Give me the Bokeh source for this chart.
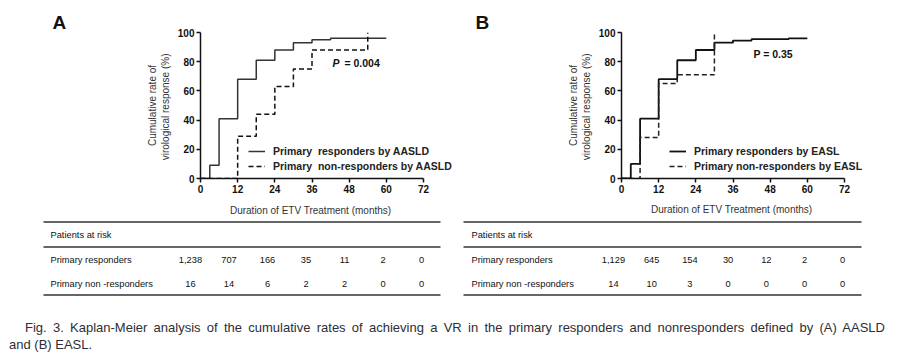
from bokeh.plotting import figure
from bokeh.models import Range1d, Legend, LegendItem, Label, FixedTicker, Div
from bokeh.layouts import column, row
from bokeh.embed import file_html
from bokeh.resources import INLINE
from bokeh.core.properties import value

# ---------------- data ----------------
months_ticks = [0, 12, 24, 36, 48, 60, 72]
pct_ticks = [0, 20, 40, 60, 80, 100]

# Panel A (AASLD)
a_resp_t = [0, 3, 6, 12, 18, 24, 30, 36, 42, 60]
a_resp_v = [0, 9, 41, 68, 81, 88, 93, 95, 96, 96]
a_non_t = [0, 12, 18, 24, 30, 36, 54]
a_non_v = [0, 29, 44, 63, 75, 88, 100]

# Panel B (EASL)
b_resp_t = [0, 3, 6, 12, 18, 24, 30, 36, 42, 54, 60]
b_resp_v = [0, 10, 41, 68, 81, 88, 93, 94.5, 95.5, 96, 96]
b_non_t = [0, 6, 12, 18, 30]
b_non_v = [0, 28, 65, 71, 100]

a_labels = ["Primary  responders by AASLD", "Primary  non-responders by AASLD"]
b_labels = ["Primary responders by EASL", "Primary non-responders by EASL"]
a_p = ("P", "= 0.004")
b_p = "P = 0.35"
x_title = "Duration of  ETV Treatment (months)"
y_title = "Cumulative rate of\nvirological response  (%)"

risk_rows = ["Primary responders", "Primary non -responders"]
a_risk_resp = ["1,238", "707", "166", "35", "11", "2", "0"]
a_risk_non = ["16", "14", "6", "2", "2", "0", "0"]
b_risk_resp = ["1,129", "645", "154", "30", "12", "2", "0"]
b_risk_non = ["14", "10", "3", "0", "0", "0", "0"]

caption1 = ("Fig. 3. Kaplan-Meier analysis of the cumulative rates of achieving a VR in the "
            "primary responders and nonresponders defined by (A) AASLD")
caption2 = "and (B) EASL."

FONT = "Liberation Sans"
TOP_H = 203
AX_PX = 223          # pixel length of the 0..72 month axis


def km_panel(letter, letter_x, resp_t, resp_v, non_t, non_v, labels, width, left, top,
             frame_h, frame_w, resp_color, resp_w, non_color):
    x_end = 72 * frame_w / AX_PX
    p = figure(width=width, height=TOP_H, output_backend="svg", toolbar_location=None,
               x_range=Range1d(0, x_end), y_range=Range1d(0, 100),
               min_border_left=left, min_border_right=width - left - frame_w,
               min_border_top=top, min_border_bottom=TOP_H - top - frame_h)
    p.outline_line_color = None
    p.grid.visible = False
    p.background_fill_color = "white"
    p.border_fill_color = "white"
    # panel letter as a left-aligned title, pulled out to the left
    p.title.text = letter
    p.title.align = "left"
    p.title.offset = letter_x - left
    p.title.standoff = 0
    p.title.text_font = FONT
    p.title.text_font_size = "19px"
    p.title.text_font_style = "bold"
    p.title.text_color = "#111"
    for ax in (p.xaxis[0], p.yaxis[0]):
        ax.axis_line_width = 1.5
        ax.axis_line_color = "#111"
        ax.major_tick_line_width = 1.5
        ax.major_tick_line_color = "#111"
        ax.major_tick_out = 4
        ax.major_tick_in = 0
        ax.minor_tick_line_color = None
        ax.major_label_text_font = FONT
        ax.major_label_text_font_size = "10px"
        ax.major_label_text_font_style = "bold"
        ax.major_label_text_color = "#111"
        ax.major_label_standoff = 2
        ax.axis_label_text_font = FONT
        ax.axis_label_text_font_size = "10px"
        ax.axis_label_text_font_style = "normal"
        ax.axis_label_text_color = "#333"
    p.xaxis.bounds = (0, 72)
    p.xaxis.ticker = FixedTicker(ticks=months_ticks)
    p.yaxis.ticker = FixedTicker(ticks=pct_ticks)
    p.yaxis.axis_label = y_title
    p.yaxis.axis_label_standoff = 4

    r1 = p.step(resp_t, resp_v, mode="after", line_color=resp_color, line_width=resp_w)
    r2 = p.step(non_t, non_v, mode="after", line_color=non_color, line_width=1.5,
                line_dash="5 3")
    leg = Legend(items=[LegendItem(label=labels[0], renderers=[r1]),
                        LegendItem(label=labels[1], renderers=[r2])],
                 location=(48, 5), margin=0, padding=0, spacing=1,
                 label_height=14, glyph_height=14, glyph_width=17, label_standoff=8,
                 background_fill_alpha=0, border_line_color=None,
                 label_text_font=FONT, label_text_font_size="10.5px",
                 label_text_font_style="bold", label_text_color="#222")
    p.add_layout(leg, "center")
    return p


A_W = 456
A_LEFT, B_LEFT = 200, 621
pA = km_panel("A", 52, a_resp_t, a_resp_v, a_non_t, a_non_v, a_labels,
              width=A_W, left=A_LEFT, top=32, frame_h=149, frame_w=254,
              resp_color="#333", resp_w=1.5, non_color="#111")
pA.add_layout(Label(x=42.6, y=79, text=a_p[0], text_font=FONT, text_font_size="10.5px",
                    text_font_style="bold italic", text_baseline="middle", text_color="#111"))
pA.add_layout(Label(x=42.6, y=79, x_offset=12, text=a_p[1], text_font=FONT,
                    text_font_size="10.5px", text_font_style="bold", text_baseline="middle",
                    text_color="#111"))

pB = km_panel("B", 475 - A_W, b_resp_t, b_resp_v, b_non_t, b_non_v, b_labels,
              width=900 - A_W, left=B_LEFT - A_W, top=31, frame_h=147, frame_w=244,
              resp_color="#111", resp_w=1.8, non_color="#222")
pB.add_layout(Label(x=42.6, y=85, text=b_p, text_font=FONT, text_font_size="10.5px",
                    text_font_style="bold", text_baseline="middle", text_color="#111"))

# ---------------- x titles + risk table ----------------
TAB_TOP, TAB_BOT = TOP_H, 304
t = figure(width=900, height=TAB_BOT - TAB_TOP, output_backend="svg", toolbar_location=None,
           x_range=Range1d(0, 900), y_range=Range1d(TAB_BOT, TAB_TOP),
           min_border=0)
t.axis.visible = False
t.grid.visible = False
t.outline_line_color = None

# x-axis titles centred under each 0..72 axis
t.text(x=[A_LEFT + AX_PX / 2, B_LEFT + AX_PX / 2], y=[210, 209], text=[x_title, x_title],
       text_font=value(FONT), text_font_size="10px", text_align="center",
       text_baseline="middle", text_color="#333")

tables = [
    dict(x0=43, x1=440, lab_x=50, col0=190, step=38.5, resp=a_risk_resp, non=a_risk_non),
    dict(x0=463, x1=861, lab_x=471, col0=613, step=38.2, resp=b_risk_resp, non=b_risk_non),
]
rule_y = [221.5, 246.5, 294.5]
row_y = [259, 283]
for tb in tables:
    t.segment(x0=[tb["x0"]] * 3, x1=[tb["x1"]] * 3, y0=rule_y, y1=rule_y,
              line_color="#333", line_width=1.3)
    t.text(x=[tb["lab_x"]], y=[234], text=["Patients at risk"], text_font=value(FONT),
           text_font_size="9.3px", text_baseline="middle", text_color="#111")
    t.text(x=[tb["lab_x"]] * 2, y=row_y, text=risk_rows, text_font=value(FONT),
           text_font_size="9.3px", text_baseline="middle", text_color="#111")
    cols = [tb["col0"] + i * tb["step"] for i in range(len(tb["resp"]))]
    t.text(x=cols, y=[row_y[0]] * len(cols), text=tb["resp"], text_font=value(FONT),
           text_font_size="9.3px", text_align="center", text_baseline="middle",
           text_color="#111")
    t.text(x=cols, y=[row_y[1]] * len(cols), text=tb["non"], text_font=value(FONT),
           text_font_size="9.3px", text_align="center", text_baseline="middle",
           text_color="#111")

cap = Div(text=(
    f'<div style="font-family:\'{FONT}\';font-size:13px;line-height:17px;color:#2e2e34;'
    f'width:885px;padding-left:8px;padding-top:15px;">'
    f'<div style="text-indent:17px;text-align:justify;text-align-last:justify;">{caption1}</div>'
    f'<div style="padding-left:1px;">{caption2}</div></div>'),
    width=900, height=54, margin=0)

layout = column(row(pA, pB, spacing=0), t, cap, spacing=0)
open("out.html", "w").write(file_html(layout, INLINE))
